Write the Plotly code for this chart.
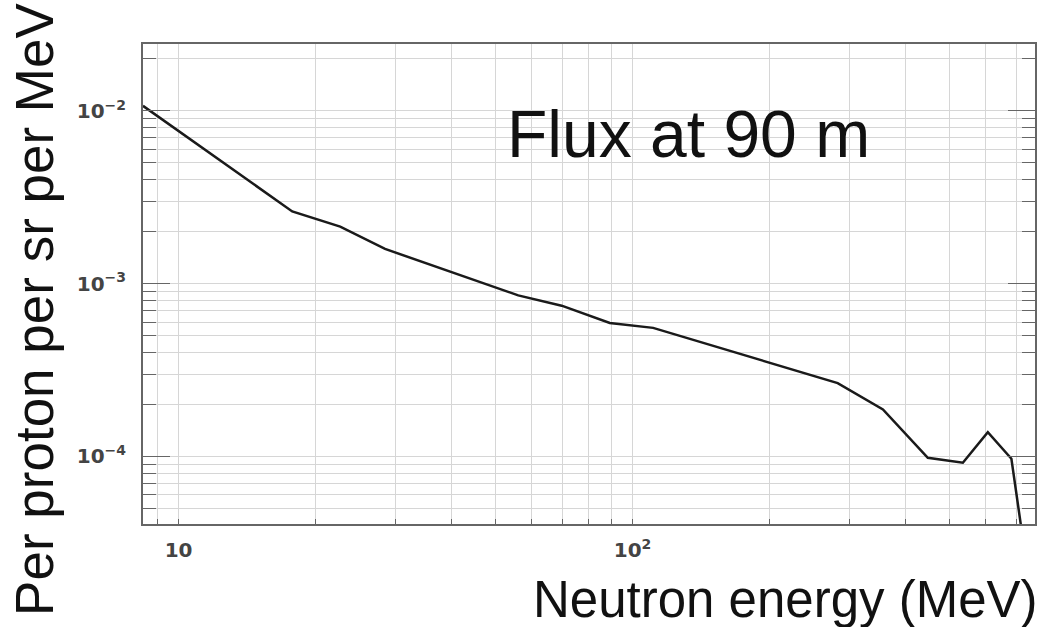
import plotly.graph_objects as go

# Data (neutron energy in MeV, flux per proton per sr per MeV)
energy = [8.35, 17.8, 22.7, 28.5, 56.0, 69.8, 89.1, 111.0, 283.0, 356.0, 447.0, 534.0, 606.0, 683.0, 728.0]
flux = [1.07e-2, 2.62e-3, 2.14e-3, 1.59e-3, 8.56e-4, 7.46e-4, 5.93e-4, 5.55e-4,
        2.66e-4, 1.87e-4, 9.83e-5, 9.2e-5, 1.38e-4, 9.7e-5, 3.0e-5]

title_text = "Flux at 90 m"
x_title = "Neutron energy (MeV)"
y_title = "Per proton per sr per MeV"

FONT = "Liberation Sans, Arial, sans-serif"
TICKFONT = dict(family="DejaVu Sans, sans-serif", size=16, color="#444", weight="bold")

fig = go.Figure()
fig.add_trace(go.Scatter(x=energy, y=flux, mode="lines",
                         line=dict(color="#1a1a1a", width=2.5), showlegend=False,
                         hoverinfo="skip"))

W, H = 1050, 627
PL, PR, PT, PB = 143, 1035.5, 44, 524.3   # plot area in page pixels
pw = PR - PL
ph = PB - PT

grid = "#d6d6d6"
axline = "#666666"

fig.update_layout(
    width=W, height=H,
    margin=dict(l=PL, r=W - PR, t=PT, b=H - PB, pad=0),
    paper_bgcolor="white", plot_bgcolor="white",
    xaxis=dict(type="log", range=[0.9217, 2.8864], dtick=1, tick0=0,
               exponentformat="power", showexponent="all",
               showgrid=True, gridcolor=grid, gridwidth=1,
               ticks="inside", ticklen=5, tickcolor=axline,
               showline=True, linecolor=axline, linewidth=1.5, mirror=True,
               tickfont=TICKFONT, ticklabelstandoff=8, zeroline=False,
               minor=dict(dtick="D1", showgrid=True, gridcolor=grid, gridwidth=1,
                          ticks="inside", ticklen=5, tickcolor=axline)),
    yaxis=dict(type="log", range=[-4.391, -1.6124], dtick=1, tick0=0,
               exponentformat="power", showexponent="all",
               showgrid=True, gridcolor=grid, gridwidth=1,
               ticks="inside", ticklen=27, tickcolor=axline,
               showline=True, linecolor=axline, linewidth=1.5, mirror="allticks",
               tickfont=TICKFONT, ticklabelstandoff=12, zeroline=False,
               minor=dict(dtick="D1", showgrid=True, gridcolor=grid, gridwidth=1,
                          ticks="inside", ticklen=13, tickcolor=axline)),
)

def px_x(p):
    return (p - PL) / pw

def px_y(p):
    return (PB - p) / ph

fig.add_annotation(text=title_text, xref="paper", yref="paper",
                   x=px_x(505), y=px_y(134.5), xanchor="left", yanchor="middle",
                   showarrow=False, font=dict(family=FONT, size=66, color="#111"))
fig.add_annotation(text=x_title, xref="paper", yref="paper",
                   x=px_x(1041), y=px_y(599.4), xanchor="right", yanchor="middle",
                   showarrow=False, font=dict(family=FONT, size=51, color="#111"))
fig.add_annotation(text=y_title, xref="paper", yref="paper", textangle=-90,
                   x=px_x(35), y=px_y(310), xanchor="center", yanchor="middle",
                   showarrow=False, font=dict(family=FONT, size=53, color="#111"))

# remove the default 8px body margin so the figure sits at the page origin
fig.write_html("out.html",
               config={"displayModeBar": False},
               post_script="document.body.style.margin='0px';document.body.style.padding='0px';")
